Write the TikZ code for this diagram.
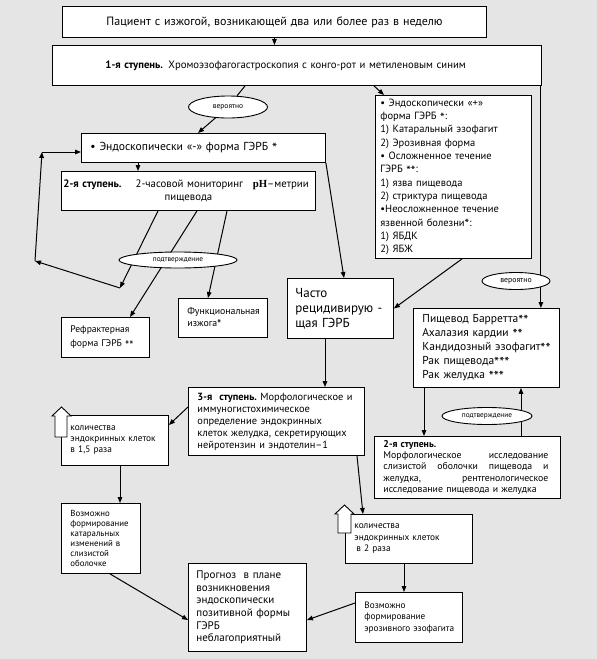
\documentclass[tikz,border=0pt]{standalone}
\usepackage{fontspec}
\setmainfont{PT Sans}
\newfontfamily\phfont{Liberation Serif}
\usetikzlibrary{arrows.meta,calc,shapes.geometric}
\definecolor{bg}{HTML}{E5E5E5}
\newcommand\fs[2]{\fontsize{#1}{#2}\selectfont}
\newcommand\zv{\raisebox{-0.5ex}{\scalebox{1.25}{*}}}
% \mybox[opts]{name}{x1}{y1}{x2}{y2}{leftpad}{text}
\newcommand\mybox[8][]{%
  \pgfmathsetmacro\mbw{#5-#3-4}%
  \pgfmathsetmacro\mbh{#6-#4}%
  \pgfmathsetmacro\mbl{#7-2}%
  \node[box,text width=\mbw pt,minimum height=\mbh pt,anchor=north west,#1] (#2) at (#3,#4) {\leftskip=\mbl pt\relax #8\par};}
\begin{document}
\begin{tikzpicture}[x=1pt,y=-1pt,
  box/.style={draw=black,line width=0.9pt,fill=white,inner xsep=2pt,inner ysep=1pt,align=left},
  ell/.style={draw=black,line width=0.9pt,fill=white,ellipse,inner sep=0pt},
  arr/.style={line width=1pt,-{Triangle[length=6pt,width=4.6pt]}},
  ln/.style={line width=1pt},
  blk/.style={draw=black,line width=0.9pt,fill=white}]
\fill[bg] (0,0) rectangle (597,659);
\useasboundingbox (0,0) rectangle (597,659);

\mybox[font=\fs{12}{14}]{b1}{62}{6}{486}{37}{2}{\centering Пациент с~изжогой, возникающей два или более раз в~неделю}
\mybox[font=\fs{10.7}{12}]{b2}{52}{45}{541}{85}{53}{\textbf{1-я ступень.} Хромоэзофагогастроскопия с конго-рот и метиленовым синим}
\mybox[font=\fs{11.6}{13}]{b3}{81}{133}{325}{162}{9}{•~Эндоскопически «-» форма ГЭРБ~\zv}
\mybox[font=\fs{10.8}{13}]{b4}{61}{171}{315}{210}{2}{\textbf{2-я~ступень.}\hspace{1.3em}2-часовой~мониторинг\hspace{0.9em}{\phfont\bfseries pH}–метрии\par{\centering пищевода\par}}
\mybox[font=\fs{10.5}{13.35}]{b5}{375}{95}{531}{258}{5}{•~Эндоскопически~«+»\\форма~ГЭРБ~\zv:\\1)~Катаральный~эзофагит\\2)~Эрозивная~форма\\•~Осложненное~течение\\ГЭРБ~\zv\zv:\\1)~язва~пищевода\\2)~стриктура~пищевода\\•Неосложненное~течение\\язвенной~болезни\zv:\\1)~ЯБДК\\2)~ЯБЖ}
\mybox[font=\fs{13}{15}]{b6}{287}{278}{393}{338}{8}{Часто\\рецидивирую~-\\щая~ГЭРБ}
\mybox[font=\fs{11.5}{14}]{b7}{413}{308}{559}{387}{9}{Пищевод~Барретта\zv\zv\\Ахалазия~кардии~\zv\zv\\Кандидозный~эзофагит\zv\zv\\Рак~пищевода\zv\zv\zv\\Рак~желудка~\zv\zv\zv}
\mybox[font=\fs{9.6}{14}]{b8}{61}{317}{149}{357}{9}{Рефрактерная\\форма~ГЭРБ~\zv\zv}
\mybox[font=\fs{9.8}{12}]{b9}{178}{298}{267}{337}{9}{Функциональная\\изжога\zv}
\mybox[font=\fs{10.4}{12}]{b10}{188}{387}{364}{455}{9}{\textbf{3-я~~ступень.}~Морфологическое~и\\иммуногистохимическое\\определение~эндокринных\\клеток~желудка,~секретирующих\\нейротензин~и~эндотелин–1}
\mybox[font=\fs{9.3}{11}]{b11}{61}{415}{168}{465}{9}{количества\\эндокринных~клеток\\в~1,5~раза}
\mybox[font=\fs{9.8}{11.3}]{b12}{374}{436}{560}{498}{9}{\rightskip=10pt plus 1fil\relax\textbf{2-я~ступень.}\\Морфологическое\hfill исследование\\слизистой\hfill оболочки\hfill пищевода\hfill и\\желудка,\hfill рентгенологическое\\исследование~пищевода~и~желудка}
\mybox[font=\fs{8.8}{10}]{b13}{61}{503}{140}{573}{9}{Возможно\\формирование\\катаральных\\изменений~в\\слизистой\\оболочке}
\mybox[font=\fs{9.3}{11.5}]{b14}{345}{514}{472}{563}{9}{количества\\эндокринных~клеток\\\hspace*{2pt}в~2~раза}
\mybox[font=\fs{9.2}{11.5}]{b15}{355}{592}{462}{642}{9}{Возможно\\формирование\\эрозивного~эзофагита}
\mybox[font=\fs{11}{12.7}]{b16}{188}{563}{306}{651}{8}{Прогноз~~в~плане\\возникновения\\эндоскопически\\позитивной~формы\\ГЭРБ\\неблагоприятный}

\node[ell,minimum width=79pt,minimum height=22pt,font=\fs{7.5}{9}] (e1) at (228,107) {вероятно};

% connectors
\draw[arr] (b1.south) -- (b1.south |- b2.north);
\draw[ln] ([xshift=193pt]b2.south west) -- (e1);
\draw[arr] (e1) -- ([xshift=117pt]b3.north west);
\draw[arr] ([xshift=322pt]b2.south west) -- ([xshift=9pt]b5.north west);
\draw[arr] ([xshift=-1pt]b2.south east) -- ([xshift=-1pt]b2.south east |- b7.north);
\draw[arr] ([xshift=57pt]b3.south west) -- ([xshift=57pt]b3.south west |- b4.north);
\draw[arr] (b3.south east) -- ([xshift=57pt]b6.north west);
\draw[arr] ([xshift=87pt]b5.south west) -- (b6.east);

\coordinate (cA) at (120,288);
\coordinate (cB) at (35,261);
\coordinate (cC) at (42,152);
\draw[arr] ([xshift=97pt]b4.south west) -- (cA);
\draw[arr] (cA) -- (cB);
\draw[arr] (cB) -- (cC);
\draw[arr] (cC) -- (cC -| b3.west);

\draw[arr] ([xshift=136pt]b4.south west) -- ([xshift=69pt]b8.north west);
\draw[arr] ([xshift=166pt]b4.south west) -- ([xshift=30pt]b9.north west);

\draw[arr] ([xshift=38pt]b6.south west) -- ([xshift=38pt]b6.south west |- b10.north);
\draw[arr] ([yshift=-20pt]b10.north west) -- ([yshift=-10pt]b11.north east);
\draw[arr] ([xshift=59pt]b11.south west) -- ([xshift=59pt]b11.south west |- b13.north);
\draw[arr] ([xshift=49pt]b13.south west) -- ([yshift=-57pt]b16.north west);
\draw[arr] ([xshift=169pt]b10.south west) -- ([xshift=18pt]b14.north west);
\draw[arr] ([xshift=59pt]b14.south west) -- ([xshift=59pt]b14.south west |- b15.north);
\draw[arr] ([yshift=-11pt]b15.north west) -- ([yshift=-57pt]b16.north east);
\draw[arr] ([xshift=11pt]b7.south west) -- ([xshift=11pt]b7.south west |- b12.north);
\draw[arr] ([xshift=147pt]b12.north west) -- ([xshift=147pt]b12.north west |- b7.south);

\node[ell,minimum width=118pt,minimum height=16pt,font=\fs{7.3}{9}] (e2) at (178,260) {подтверждение};
\node[ell,minimum width=68pt,minimum height=17pt,font=\fs{7.8}{9}] (e3) at (516,281) {вероятно};
\node[ell,minimum width=90pt,minimum height=17pt,font=\fs{7.3}{9}] (e4) at (487,416) {подтверждение};

% block up-arrows
\draw[blk] (55,437) -- (55,416) -- (52,416) -- (61.5,407) -- (71,416) -- (67,416) -- (67,437) -- cycle;
\draw[blk] (338,533) -- (338,514) -- (335,514) -- (344.5,505) -- (354,514) -- (351,514) -- (351,533) -- cycle;
\end{tikzpicture}
\end{document}
